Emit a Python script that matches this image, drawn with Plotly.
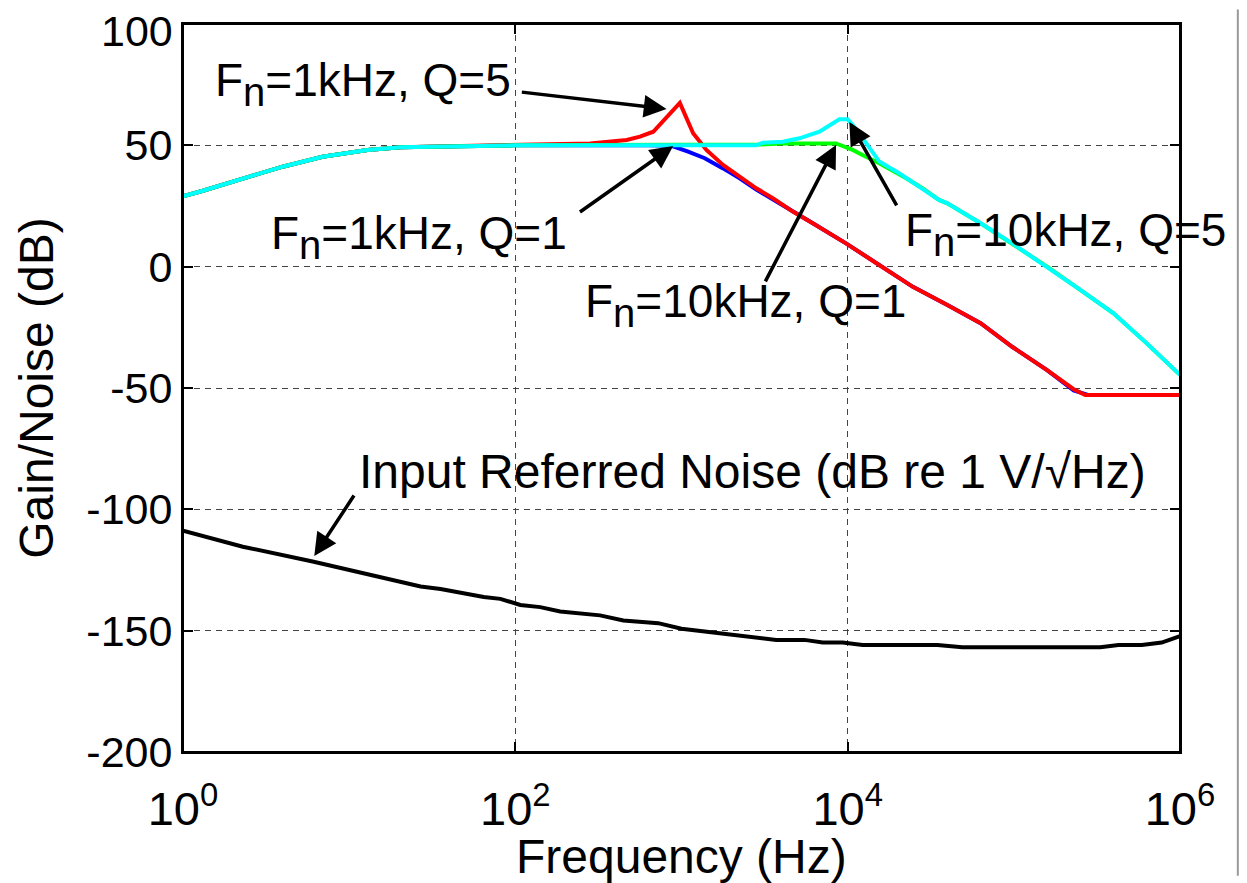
import numpy as np
import plotly.graph_objects as go

# ---- data (log10 of frequency in Hz, gain in dB) ----
base_logf = [0.0, 0.12, 0.40, 0.60, 0.84, 1.11, 1.31, 1.79, 2.0]
base_db   = [29.0, 31.3, 37.1, 41.2, 45.3, 48.1, 49.2, 49.8, 50.0]

red_logf = [2.45, 2.67, 2.75, 2.83, 2.91, 2.99, 3.07, 3.15, 3.25, 3.35, 3.45, 3.55, 3.67,
            3.79, 3.99, 4.19, 4.39, 4.60, 4.80, 4.99, 5.20, 5.36, 5.43, 6.0]
red_db   = [50.8, 52.2, 53.6, 55.6, 61.8, 67.5, 55.0, 48.1, 41.9, 37.1, 32.3, 28.2, 22.7,
            17.9, 9.6, 0.7, -8.2, -15.8, -23.3, -33.0, -42.6, -50.5, -52.9, -52.9]

blue_logf = [2.80, 2.94, 3.04, 3.14, 3.25, 3.35, 3.45, 3.55, 3.67, 3.79, 3.99, 4.19, 4.39,
             4.60, 4.80, 4.99, 5.20, 5.36, 5.45, 6.0]
blue_db   = [50.0, 49.8, 47.4, 44.7, 40.5, 36.4, 31.8, 27.8, 22.7, 17.9, 9.6, 0.7, -8.2,
             -15.8, -23.3, -33.0, -42.6, -51.0, -52.9, -52.9]

green_logf = [3.47, 3.60, 3.93, 4.03, 4.11, 4.19, 4.35, 4.45, 4.55, 4.60, 4.80, 4.99, 5.20,
              5.40, 5.60, 5.80, 6.0]
green_db   = [50.3, 50.8, 50.8, 48.1, 45.3, 42.6, 36.5, 32.3, 27.5, 26.1, 17.9, 9.6, 0.0,
              -9.6, -19.2, -31.6, -44.6]

cyan_logf = [3.45, 3.49, 3.61, 3.71, 3.83, 3.91, 3.95, 4.00, 4.03, 4.12, 4.19, 4.31, 4.45,
             4.55, 4.60, 4.80, 4.99, 5.20, 5.40, 5.60, 5.80, 6.0]
cyan_db   = [50.0, 51.1, 51.5, 52.9, 55.6, 59.1, 60.7, 60.7, 58.4, 50.1, 43.3, 38.5, 32.3,
             27.5, 26.1, 17.9, 9.6, 0.0, -9.6, -19.2, -31.6, -44.6]

noise_logf = [0.0, 0.22, 0.36, 0.78, 1.43, 1.55, 1.81, 1.91, 2.03, 2.15, 2.27, 2.51, 2.65,
              2.86, 3.0, 3.57, 3.74, 3.85, 3.97, 4.09, 4.54, 4.69, 5.52, 5.63, 5.77, 5.89, 6.0]
noise_db   = [-108.8, -112.6, -115.4, -121.5, -131.8, -132.8, -136.1, -136.9, -139.4, -140.3,
              -142.1, -143.7, -145.8, -146.9, -149.2, -153.8, -153.8, -154.9, -154.9, -155.9,
              -155.9, -156.8, -156.8, -155.9, -155.9, -154.9, -152.2]

x_tickvals = [1, 100, 10000, 1000000]
x_ticktext = ["10<sup>0</sup>", "10<sup>2</sup>", "10<sup>4</sup>", "10<sup>6</sup>"]
y_tickvals = [-200, -150, -100, -50, 0, 50, 100]
y_ticktext = ["-200", "-150", "-100", "-50", "0", "50", ""]   # top label drawn below
y_top_label = "100"

FONT = "Liberation Sans, Arial, sans-serif"
SUBN = "<sub><span style='font-size:40px'>n</span></sub>"


def hz(logf):
    return np.power(10.0, np.array(logf, dtype=float))


fig = go.Figure()
series = [
    ("Fn=1kHz, Q=1", base_logf + blue_logf, base_db + blue_db, "#0000FF"),
    ("Fn=1kHz, Q=5", base_logf + red_logf, base_db + red_db, "#FF0000"),
    ("Fn=10kHz, Q=1", base_logf + green_logf, base_db + green_db, "#00FF00"),
    ("Fn=10kHz, Q=5", base_logf + cyan_logf, base_db + cyan_db, "#00FFFF"),
    ("Input Referred Noise", noise_logf, noise_db, "#000000"),
]
for name, lx, ly, col in series:
    fig.add_trace(go.Scatter(x=hz(lx), y=ly, mode="lines", name=name,
                             line=dict(color=col, width=4), showlegend=False))

texts = [
    ("F" + SUBN + "=1kHz, Q=5", 0.18, 75.3, 46),
    ("F" + SUBN + "=1kHz, Q=1", 0.52, 12.2, 46),
    ("F" + SUBN + "=10kHz, Q=1", 2.41, -15.8, 46),
    ("F" + SUBN + "=10kHz, Q=5", 4.33, 13.5, 46),
    ("Input Referred Noise (dB re 1 V/\u221aHz)", 1.05, -84.6, 48),
]
annotations = []
for t, x, y, fs in texts:
    annotations.append(dict(text=t, x=x, y=y, xref="x", yref="y", showarrow=False,
                            xanchor="left", yanchor="middle",
                            font=dict(family=FONT, size=fs, color="black")))

arrows = [
    ((2.03, 72.0), (2.91, 65.0)),
    ((2.38, 22.1), (2.95, 49.7)),
    ((3.50, -6.7), (3.93, 50.1)),
    ((4.30, 24.6), (4.01, 59.6)),
    ((1.035, -93.7), (0.79, -119.2)),
]
for (tx, ty), (hx, hy) in arrows:
    annotations.append(dict(text="", x=hx, y=hy, xref="x", yref="y",
                            ax=tx, ay=ty, axref="x", ayref="y", showarrow=True,
                            arrowhead=2, arrowsize=1.3, arrowwidth=3.5,
                            arrowcolor="black", standoff=0, startstandoff=0))

# x-axis title as a paper annotation
annotations.append(dict(text="Frequency (Hz)", x=0.5, y=-0.144, xref="paper", yref="paper",
                        showarrow=False, xanchor="center", yanchor="middle",
                        font=dict(family=FONT, size=48, color="black")))
# top y tick label, nudged down like the original
annotations.append(dict(text=y_top_label, x=0, y=y_tickvals[-1], xref="paper", yref="y",
                        showarrow=False, xanchor="right", yanchor="middle",
                        xshift=-8, yshift=-7,
                        font=dict(family=FONT, size=43, color="black")))

fig.update_layout(
    width=1239, height=875,
    margin=dict(l=175, r=67, t=16, b=131, autoexpand=False),
    paper_bgcolor="white", plot_bgcolor="white",
    font=dict(family=FONT, color="black"),
    annotations=annotations,
    shapes=[
        dict(type="rect", xref="paper", yref="paper", x0=0, x1=1, y0=0, y1=1,
             line=dict(color="black", width=2), fillcolor="rgba(0,0,0,0)", layer="above"),
        dict(type="line", xref="paper", yref="paper", x0=1.058, x1=1.058,
             y0=-0.17, y1=1.02, line=dict(color="#999999", width=2)),
    ],
)
fig.update_xaxes(
    type="log", range=[0, 6], automargin=False,
    tickvals=x_tickvals, ticktext=x_ticktext,
    tickfont=dict(family=FONT, size=47), ticklabelstandoff=15,
    ticklabeloverflow="allow",
    showline=True, linecolor="black", linewidth=2, mirror="ticks",
    ticks="inside", ticklen=10, tickwidth=1.5, tickcolor="black",
    showgrid=True, gridcolor="#444444", gridwidth=1, griddash="6px,5px",
    zeroline=False,
)
fig.update_yaxes(
    range=[-200, 100], tickvals=y_tickvals, ticktext=y_ticktext, automargin=False,
    tickfont=dict(family=FONT, size=43), ticklabeloverflow="allow",
    title=dict(text="Gain/Noise (dB)", font=dict(family=FONT, size=48), standoff=18),
    showline=True, linecolor="black", linewidth=2, mirror="ticks",
    ticks="inside", ticklen=10, tickwidth=1.5, tickcolor="black",
    showgrid=True, gridcolor="#444444", gridwidth=1, griddash="6px,5px",
    zeroline=False,
)

fig.write_html("out.html")
